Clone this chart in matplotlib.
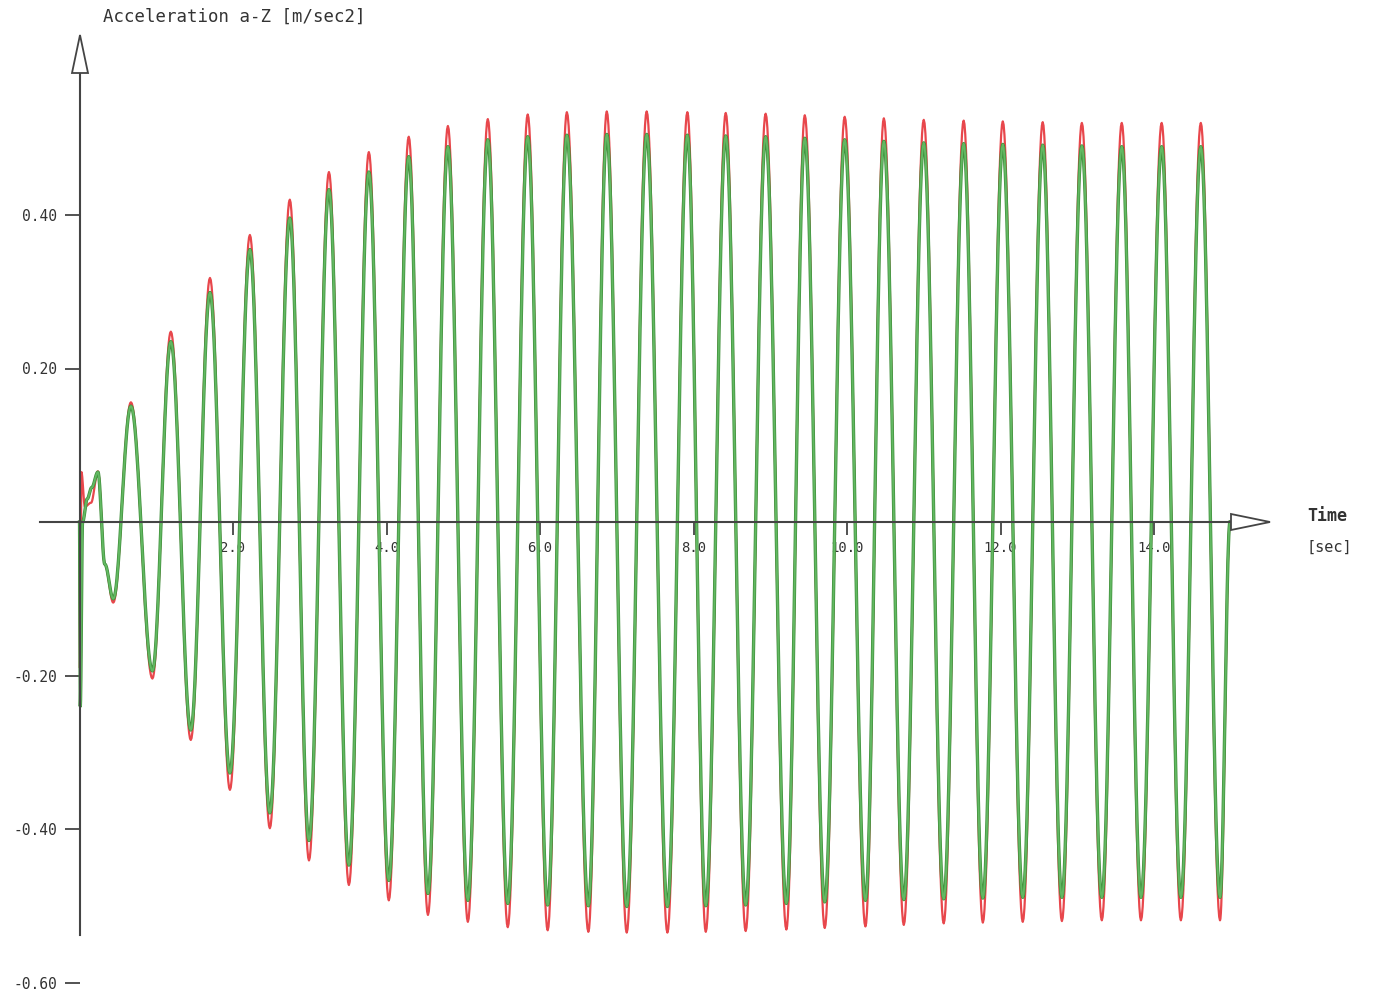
import numpy as np
import matplotlib
matplotlib.use("Agg")
import matplotlib.pyplot as plt
from matplotlib.patches import Polygon

# --- data (time in s, acceleration in m/s^2) ---
# start-up transient
red_start_t = [0.0, 0.005, 0.025, 0.07, 0.15, 0.24, 0.33]
red_start_v = [0.0, -0.19, 0.065, 0.02, 0.025, 0.066, -0.055]
green_start_t = [0.0, 0.01, 0.04, 0.10, 0.16, 0.24, 0.33]
green_start_v = [0.0, -0.24, 0.0, 0.03, 0.045, 0.065, -0.055]

# extrema of the steady oscillation
peak_t = [0.67, 1.19, 1.70, 2.22, 2.74, 3.25, 3.77, 4.29, 4.80, 5.32, 5.84, 6.35,
          6.87, 7.39, 7.92, 8.42, 8.94, 9.45, 9.97, 10.48, 11.00, 11.52, 12.03,
          12.55, 13.06, 13.58, 14.10, 14.61]
trough_t = [0.44, 0.95, 1.45, 1.96, 2.48, 2.99, 3.51, 4.03, 4.54, 5.06, 5.58, 6.10,
            6.63, 7.13, 7.66, 8.16, 8.68, 9.21, 9.71, 10.24, 10.74, 11.26, 11.77,
            12.29, 12.80, 13.32, 13.83, 14.35, 14.86]

red_peak = [0.156, 0.248, 0.318, 0.374, 0.420, 0.456, 0.482, 0.502, 0.516, 0.525,
            0.531, 0.534, 0.535, 0.535, 0.534, 0.533, 0.532, 0.530, 0.528, 0.526,
            0.524, 0.523, 0.522, 0.521, 0.520, 0.520, 0.520, 0.520]
green_peak = [0.151, 0.235, 0.299, 0.355, 0.396, 0.433, 0.456, 0.476, 0.489, 0.498,
              0.502, 0.504, 0.505, 0.505, 0.504, 0.503, 0.502, 0.500, 0.498, 0.496,
              0.494, 0.493, 0.492, 0.491, 0.490, 0.489, 0.489, 0.489]
red_trough = [-0.105, -0.204, -0.284, -0.349, -0.399, -0.441, -0.473, -0.493, -0.512,
              -0.521, -0.528, -0.532, -0.534, -0.535, -0.535, -0.534, -0.533, -0.531,
              -0.529, -0.527, -0.525, -0.523, -0.522, -0.521, -0.520, -0.519, -0.519,
              -0.519, -0.519]
green_trough = [-0.100, -0.194, -0.271, -0.327, -0.379, -0.415, -0.447, -0.467, -0.484,
                -0.493, -0.497, -0.499, -0.500, -0.501, -0.501, -0.500, -0.499, -0.497,
                -0.495, -0.493, -0.492, -0.491, -0.490, -0.489, -0.489, -0.489, -0.489,
                -0.489, -0.489]

end_t, end_v = 14.99, 0.0

xtick_vals = [2.0, 4.0, 6.0, 8.0, 10.0, 12.0, 14.0]
xtick_labels = ["2.0", "4.0", "6.0", "8.0", "10.0", "12.0", "14.0"]
ytick_vals = [0.40, 0.20, -0.20, -0.40, -0.60]
ytick_labels = ["0.40", "0.20", "-0.20", "-0.40", "-0.60"]


def key_points(start_t, start_v, peaks, troughs):
    t = list(start_t) + peak_t + trough_t + [end_t]
    v = list(start_v) + list(peaks) + list(troughs) + [end_v]
    order = np.argsort(t)
    return np.array(t)[order], np.array(v)[order]


def smooth(t, v, n=24):
    # half-cosine between consecutive key points (waveform shape)
    xs, ys = [], []
    s = np.linspace(0, 1, n, endpoint=False)
    w = (1 - np.cos(np.pi * s)) / 2
    for i in range(len(t) - 1):
        xs.append(t[i] + (t[i + 1] - t[i]) * s)
        ys.append(v[i] + (v[i + 1] - v[i]) * w)
    xs.append([t[-1]])
    ys.append([v[-1]])
    return np.concatenate(xs), np.concatenate(ys)


# pixel mapping of the original figure
W, H = 1379, 997
X0, SX = 79.5, 76.75
Y0, SY = 522.0, 767.5


def px2t(px):
    return (px - X0) / SX


def py2v(py):
    return (Y0 - py) / SY


FONT = "DejaVu Sans Mono"
TXT = "#333333"
AX_C = "#444444"

fig = plt.figure(figsize=(W / 100, H / 100), dpi=100)
ax = fig.add_axes([0, 0, 1, 1])
ax.set_xlim(px2t(0), px2t(W))
ax.set_ylim(py2v(H), py2v(0))

rt, rv = key_points(red_start_t, red_start_v, red_peak, red_trough)
gt, gv = key_points(green_start_t, green_start_v, green_peak, green_trough)
rx, ry = smooth(rt, rv)
gx, gy = smooth(gt, gv)
ax.plot(rx, ry, color="#e8474c", lw=1.6, zorder=2)
# green trace with a darker rim, as in the source rendering
ax.plot(gx, gy, color="#3f8f3a", lw=2.4, zorder=3)
ax.plot(gx, gy, color="#62b862", lw=1.4, zorder=3)

# axes drawn as arrows
ax.plot([px2t(40), px2t(1231)], [0, 0], color=AX_C, lw=1.5, zorder=4, clip_on=False)
ax.plot([0, 0], [py2v(935), py2v(72)], color=AX_C, lw=1.5, zorder=4, clip_on=False)
xhead = Polygon([[px2t(1231), py2v(514)], [px2t(1270), py2v(522)], [px2t(1231), py2v(530)]],
                closed=True, facecolor="white", edgecolor=AX_C, lw=1.3, zorder=5)
yhead = Polygon([[px2t(72), py2v(73)], [px2t(80), py2v(35)], [px2t(88), py2v(73)]],
                closed=True, facecolor="white", edgecolor=AX_C, lw=1.3, zorder=5)
ax.add_patch(xhead)
ax.add_patch(yhead)

for side in ["top", "right"]:
    ax.spines[side].set_visible(False)
ax.spines["left"].set_position(("data", 0))
ax.spines["bottom"].set_position(("data", 0))
ax.spines["left"].set_color("none")
ax.spines["bottom"].set_color("none")

ax.set_xticks(xtick_vals)
ax.set_xticklabels(xtick_labels, fontfamily=FONT, fontsize=10, color=TXT)
ax.set_yticks(ytick_vals)
ax.set_yticklabels(ytick_labels, fontfamily=FONT, fontsize=10.5, color=TXT)
ax.tick_params(axis="x", direction="out", length=9.5, width=1.3, pad=4, colors=AX_C)
ax.tick_params(axis="y", direction="out", length=11, width=1.3, pad=5, colors=AX_C)
for lab in ax.get_xticklabels() + ax.get_yticklabels():
    lab.set_color(TXT)

fig.text(103 / W, 1 - 17 / H, "Acceleration a-Z [m/sec2]", fontfamily=FONT,
         fontsize=12.5, color=TXT, ha="left", va="center")
fig.text(1307 / W, 1 - 516 / H, "Time", fontfamily=FONT, fontsize=12,
         fontweight="bold", color=TXT, ha="left", va="center")
fig.text(1307 / W, 1 - 547 / H, "[sec]", fontfamily=FONT, fontsize=11,
         color=TXT, ha="left", va="center")

fig.savefig("out.png", dpi=100)
